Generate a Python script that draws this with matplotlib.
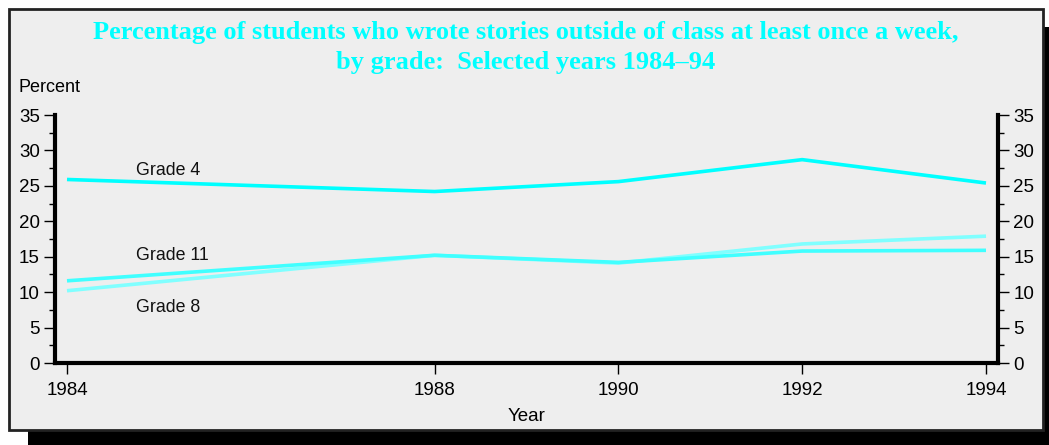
import matplotlib
matplotlib.use("Agg")
import matplotlib.pyplot as plt
from matplotlib.patches import Rectangle
from matplotlib.ticker import MultipleLocator

# data
years = [1984, 1988, 1990, 1992, 1994]
grade4 = [25.9, 24.2, 25.6, 28.7, 25.4]
grade8 = [10.2, 15.2, 14.1, 16.8, 17.9]
grade11 = [11.6, 15.2, 14.2, 15.8, 15.9]
yticks = [0, 5, 10, 15, 20, 25, 30, 35]

W, H = 1049, 445
fig = plt.figure(figsize=(W / 100, H / 100), dpi=100)
fig.patch.set_facecolor("white")

# drop shadow + framed panel (pixel coords -> figure fraction)
def px_rect(x0, y0, x1, y1, **kw):
    return Rectangle((x0 / W, 1 - y1 / H), (x1 - x0) / W, (y1 - y0) / H,
                     transform=fig.transFigure, **kw)

fig.patches.append(px_rect(28, 27, 1070, 460, facecolor="black",
                           edgecolor="none", zorder=0))
fig.patches.append(px_rect(9, 9, 1043, 430, facecolor="#eeeeee",
                           edgecolor="#222222", linewidth=2, zorder=1))

ax = fig.add_axes([55 / W, 1 - 363 / H, (998 - 55) / W, (363 - 115) / H])
ax.set_facecolor("none")
ax.set_zorder(2)

ax.plot(years, grade4, color="#00ffff", lw=2.6, solid_capstyle="butt")
ax.plot(years, grade8, color="#80ffff", lw=2.6, solid_capstyle="butt")
ax.plot(years, grade11, color="#40ffff", lw=2.6, solid_capstyle="butt")

ax.set_xlim(1984 - 12 / 91.9, 1994 + 12 / 91.9)
ax.set_ylim(0, 35)

txt = dict(fontsize=12.8, family="Liberation Sans", color="#111111")
ax.text(1984.75, 27.2, "Grade 4", va="center", **txt)
ax.text(1984.75, 15.2, "Grade 11", va="center", **txt)
ax.text(1984.75, 7.9, "Grade 8", va="center", **txt)

ax.spines["top"].set_visible(False)
for s in ["left", "right", "bottom"]:
    ax.spines[s].set_linewidth(3)
    ax.spines[s].set_color("black")

ax.set_xticks(years)
ax.set_xticklabels([str(y) for y in years], family="Liberation Sans")
ax.set_yticks(yticks)
ax.yaxis.set_minor_locator(MultipleLocator(2.5))
ax.tick_params(axis="y", which="both", left=True, right=True,
               labelleft=True, labelright=True, direction="out",
               labelsize=13.5, width=1, pad=3)
ax.tick_params(axis="y", which="major", length=8)
ax.tick_params(axis="y", which="minor", length=4)
ax.tick_params(axis="x", length=8, width=1, pad=6, labelsize=13.5)
for lab in ax.get_yticklabels():
    lab.set_family("Liberation Sans")

ax.set_xlabel("Year", family="Liberation Sans", fontsize=13.5, labelpad=6)

fig.text(18 / W, 1 - 88 / H, "Percent", family="Liberation Sans",
         fontsize=13, va="center", ha="left")

title_kw = dict(family="Liberation Serif", fontweight="bold", fontsize=19,
                color="#00ffff", ha="center", va="center")
fig.text(526 / W, 1 - 32 / H,
         "Percentage of students who wrote stories outside of class at least once a week,",
         **title_kw)
fig.text(526 / W, 1 - 62 / H, "by grade:  Selected years 1984\u201394", **title_kw)

fig.savefig("out.png", dpi=100)
